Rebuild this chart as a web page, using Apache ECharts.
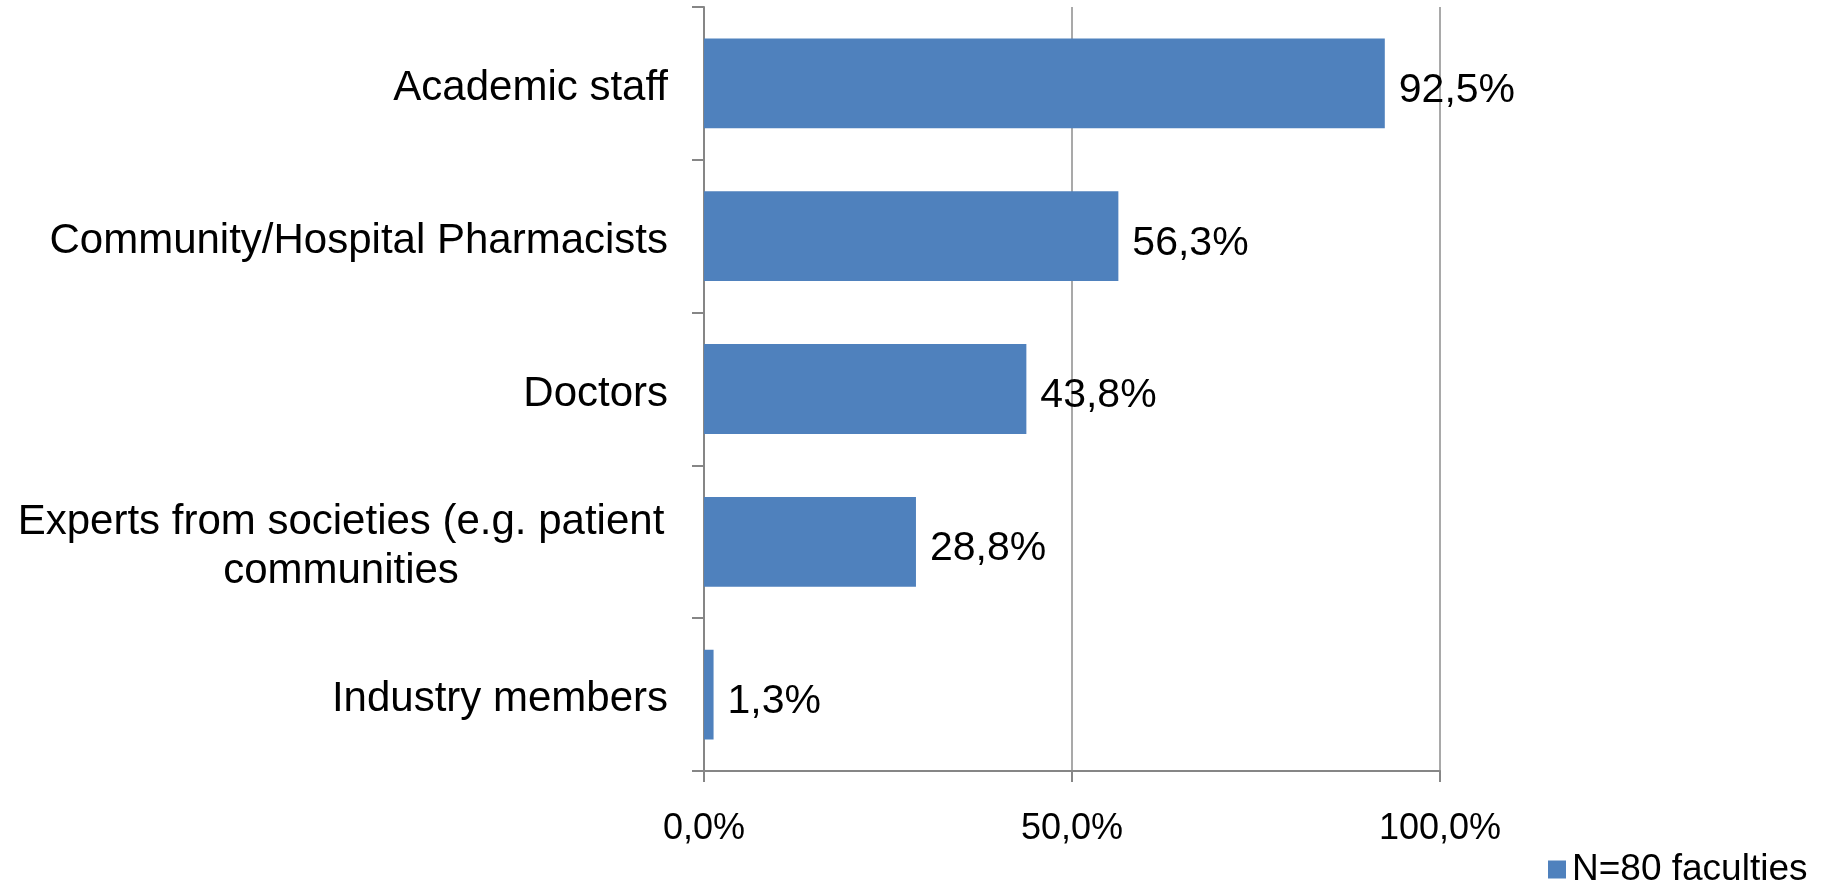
<!DOCTYPE html>
<html>
<head>
<meta charset="utf-8">
<script src="https://cdn.jsdelivr.net/npm/echarts@6/dist/echarts.min.js"></script>
<style>
html,body{margin:0;padding:0;background:#fff;}
#chart{width:1827px;height:883px;}
</style>
</head>
<body>
<div id="chart"></div>
<script>
const categories = [
  "Academic staff",
  "Community/Hospital Pharmacists",
  "Doctors",
  "Experts from societies (e.g. patient\ncommunities",
  "Industry members"
];
const values = [92.5, 56.3, 43.8, 28.8, 1.3];
const seriesName = "N=80 faculties";
const xTicks = [0, 50, 100];

const FONT = "'Liberation Sans', Arial, sans-serif";
const fmt = v => v.toFixed(1).replace('.', ',') + '%';

const chart = echarts.init(document.getElementById('chart'), null, {renderer: 'canvas'});
chart.setOption({
  animation: false,
  backgroundColor: '#ffffff',
  grid: {left: 704, right: 387, top: 7, bottom: 112, containLabel: false},
  legend: {
    show: true,
    left: 1548,
    top: 851,
    padding: 0,
    itemWidth: 18,
    itemHeight: 18,
    itemGap: 6,
    icon: 'rect',
    textStyle: {fontFamily: FONT, fontSize: 37, color: '#000', padding: [0, 0, 0, 1]},
    data: [seriesName]
  },
  xAxis: {
    type: 'value',
    min: xTicks[0],
    max: xTicks[xTicks.length - 1],
    interval: xTicks[1] - xTicks[0],
    axisLine: {show: true, lineStyle: {color: '#868686', width: 2}},
    axisTick: {show: true, length: 11, lineStyle: {color: '#868686', width: 2}},
    splitLine: {show: true, lineStyle: {color: '#8c8c8c', width: 1.5}},
    axisLabel: {
      margin: 40,
      fontFamily: FONT,
      fontSize: 36,
      color: '#000',
      formatter: v => fmt(v)
    }
  },
  yAxis: {
    type: 'category',
    inverse: true,
    data: categories,
    axisLine: {show: true, lineStyle: {color: '#868686', width: 2}},
    axisTick: {show: true, length: 12, lineStyle: {color: '#868686', width: 2}},
    axisLabel: {
      margin: 36,
      fontFamily: FONT,
      fontSize: 42,
      color: '#000',
      padding: [10, 0, 0, 0],
      formatter: function (v) {
        if (v.indexOf('\n') >= 0) {
          return v.split('\n').map(s => '{c|' + s + '}').join('\n');
        }
        return v;
      },
      rich: {
        c: {width: 654, align: 'center', fontFamily: FONT, fontSize: 42, lineHeight: 49, color: '#000'}
      }
    }
  },
  series: [{
    name: seriesName,
    type: 'bar',
    data: values,
    barCategoryGap: '41.2%',
    itemStyle: {color: '#4F81BD'},
    label: {
      show: true,
      position: 'right',
      distance: 14,
      offset: [0, 7],
      fontFamily: FONT,
      fontSize: 41,
      color: '#000',
      formatter: p => fmt(p.value)
    }
  }]
});
</script>
</body>
</html>
